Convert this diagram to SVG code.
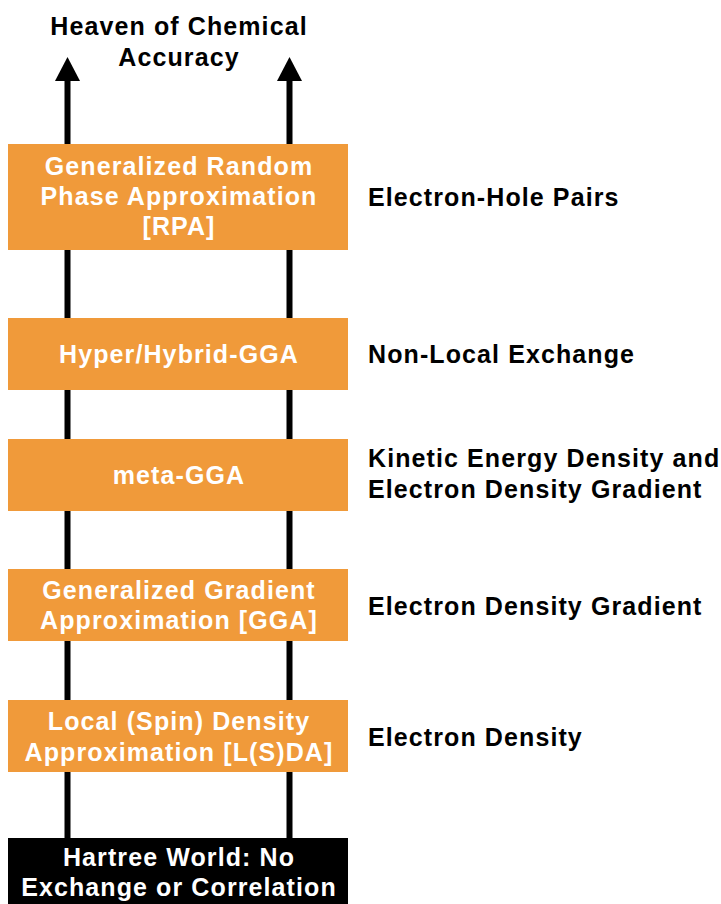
<svg xmlns="http://www.w3.org/2000/svg" width="721" height="904" viewBox="0 0 721 904">
<defs>
<style>
.t{font-family:"Liberation Sans",Arial,sans-serif;font-weight:bold;font-size:25px;letter-spacing:1.1px}
.w{fill:#ffffff;text-anchor:middle}
.b{fill:#000000}
.c{text-anchor:middle}
.box{fill:#F09A3A}
.rail{stroke:#000;stroke-width:6;fill:none}
</style>
</defs>
<rect width="721" height="904" fill="#ffffff"/>
<g id="title">
<text class="t b c" x="179" y="35">Heaven of Chemical</text>
<text class="t b c" x="179" y="66">Accuracy</text>
</g>
<g id="connectors">
<line class="rail" x1="67.5" y1="838" x2="67.5" y2="80"/>
<line class="rail" x1="289.5" y1="838" x2="289.5" y2="80"/>
<polygon points="55,81 67.5,57 80,81" fill="#000"/>
<polygon points="277,81 289.5,57 302,81" fill="#000"/>
</g>
<g id="rpa">
<rect class="box" x="8" y="144" width="340" height="106"/>
<text class="t w" x="179" y="175">Generalized Random</text>
<text class="t w" x="179" y="205">Phase Approximation</text>
<text class="t w" x="179" y="235">[RPA]</text>
</g>
<g id="hyper">
<rect class="box" x="8" y="318" width="340" height="72"/>
<text class="t w" x="179" y="363">Hyper/Hybrid-GGA</text>
</g>
<g id="meta">
<rect class="box" x="8" y="439" width="340" height="72"/>
<text class="t w" x="179" y="484">meta-GGA</text>
</g>
<g id="gga">
<rect class="box" x="8" y="569" width="340" height="72"/>
<text class="t w" x="179" y="599">Generalized Gradient</text>
<text class="t w" x="179" y="629">Approximation [GGA]</text>
</g>
<g id="lsda">
<rect class="box" x="8" y="700" width="340" height="72"/>
<text class="t w" x="179" y="730">Local (Spin) Density</text>
<text class="t w" x="179" y="761">Approximation [L(S)DA]</text>
</g>
<g id="hartree">
<rect x="8" y="838" width="340" height="70" fill="#000"/>
<text class="t w" x="179" y="866">Hartree World: No</text>
<text class="t w" x="179" y="896">Exchange or Correlation</text>
</g>
<g id="labels">
<text class="t b" x="368" y="206">Electron-Hole Pairs</text>
<text class="t b" x="368" y="363">Non-Local Exchange</text>
<text class="t b" x="368" y="467">Kinetic Energy Density and</text>
<text class="t b" x="368" y="498">Electron Density Gradient</text>
<text class="t b" x="368" y="615">Electron Density Gradient</text>
<text class="t b" x="368" y="746">Electron Density</text>
</g>
</svg>
